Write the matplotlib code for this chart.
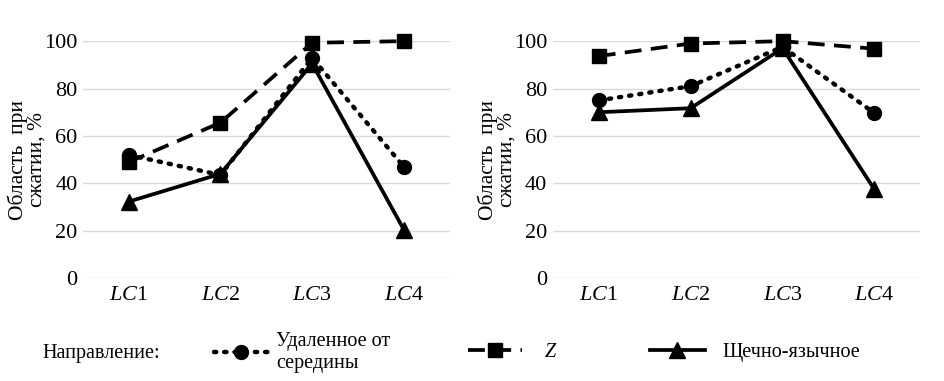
import numpy as np
import matplotlib.pyplot as plt
from matplotlib.lines import Line2D

plt.rcParams['font.family'] = ['Liberation Serif', 'DejaVu Serif']
plt.rcParams['mathtext.fontset'] = 'custom'
plt.rcParams['mathtext.rm'] = 'Liberation Serif'
plt.rcParams['mathtext.it'] = 'Liberation Serif:italic'

categories = [r'$\mathit{LC}$1', r'$\mathit{LC}$2', r'$\mathit{LC}$3', r'$\mathit{LC}$4']

# левый график
left_dist = [52, 43.5, 93, 47]
left_z = [49, 65.6, 99.3, 100]
left_bucc = [32.3, 44, 90.5, 20.5]

# правый график
right_dist = [75, 81, 97.6, 69.6]
right_z = [93.7, 99, 100, 96.8]
right_bucc = [70, 71.7, 97, 37.4]

ylabel = 'Область  при\nсжатии, %'
legend_labels = ['Удаленное от\nсередины', r'$\mathit{Z}$', 'Щечно-язычное']
fs = 16

fig = plt.figure(figsize=(9.45, 3.81), dpi=100)
ax1 = fig.add_axes([0.0878, 0.270, 0.388, 0.622])
ax2 = fig.add_axes([0.585, 0.270, 0.389, 0.622])

dot_ls = (0, (0.5, 1.8))
dash_ls = (0, (4.5, 2.5))
x = np.arange(len(categories))
for ax, d, z, b in [(ax1, left_dist, left_z, left_bucc), (ax2, right_dist, right_z, right_bucc)]:
    ax.plot(x, d, color='black', lw=3.2, linestyle=dot_ls, dash_capstyle='round',
            marker='o', ms=10, clip_on=False, zorder=3)
    ax.plot(x, z, color='black', lw=2.7, linestyle=dash_ls,
            marker='s', ms=10, clip_on=False, zorder=3)
    ax.plot(x, b, color='black', lw=2.7, linestyle='-',
            marker='^', ms=11, clip_on=False, zorder=3)
    ax.set_xlim(-0.5, 3.5)
    ax.set_ylim(0, 100)
    ax.set_yticks([0, 20, 40, 60, 80, 100])
    ax.set_xticks(x)
    ax.set_xticklabels(categories, fontsize=fs)
    ax.tick_params(axis='y', labelsize=fs, length=0, pad=4)
    ax.tick_params(axis='x', length=0, pad=6)
    ax.grid(axis='y', color='#d9d9d9', lw=1)
    ax.set_axisbelow(True)
    for s in ax.spines.values():
        s.set_visible(False)
    ax.set_ylabel(ylabel, fontsize=15.5, linespacing=0.95)
    ax.yaxis.set_label_coords(-0.1, 0.5)

handles = [
    Line2D([], [], color='black', lw=3.2, linestyle=dot_ls, dash_capstyle='round', marker='o', ms=10),
    Line2D([], [], color='black', lw=2.7, linestyle=dash_ls, marker='s', ms=10),
    Line2D([], [], color='black', lw=2.7, marker='^', ms=11),
]
fig.text(0.045, 0.072, 'Направление:', fontsize=14.5, va='center')
for h, lab, x0, pad in zip(handles, legend_labels, [0.226, 0.495, 0.688], [0.4, 1.1, 0.9]):
    fig.legend([h], [lab], loc='center left', bbox_to_anchor=(x0, 0.075),
               frameon=False, fontsize=14.5, handlelength=2.7,
               handletextpad=pad, borderaxespad=0, borderpad=0, labelspacing=0.2)

fig.savefig('out.png', dpi=100)
